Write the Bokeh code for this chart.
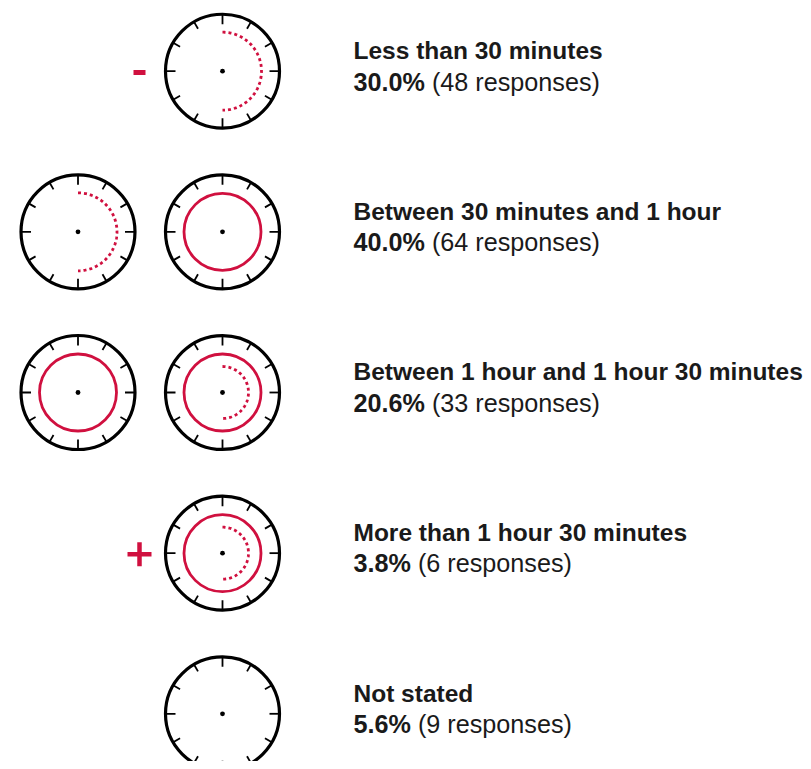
import numpy as np
from bokeh.plotting import figure
from bokeh.models import Range1d, ColumnDataSource
from bokeh.core.properties import value
from bokeh.embed import file_html
from bokeh.resources import INLINE

# ---------------- data ----------------
labels = [
    "Less than 30 minutes",
    "Between 30 minutes and 1 hour",
    "Between 1 hour and 1 hour 30 minutes",
    "More than 1 hour 30 minutes",
    "Not stated",
]
percents = [30.0, 40.0, 20.6, 3.8, 5.6]
responses = [48, 64, 33, 6, 9]
# minutes shown on each clock icon of a row (0 = empty clock)
clock_minutes = [[30], [30, 60], [60, 90], [90], [0]]
# sign drawn before the clocks
signs = ["-", "", "", "+", ""]

# ---------------- style / layout ----------------
RED = "#d0103f"
INK = "#1a1a1a"
FONT = "Liberation Sans"
FS = 24.5
FS2 = 25.2
W, H = 803, 761
ROW0, ROW_STEP = 70.7, 160.65
CLOCK_X, CLOCK_STEP = 222.0, 144.5
R_OUT, R_HOUR, R_HALF_OUTER, R_HALF_INNER = 57.0, 38.5, 39.0, 26.0
TEXT_X = 353.0

p = figure(width=W, height=H, output_backend="svg", toolbar_location=None,
           x_range=Range1d(0, W), y_range=Range1d(H, 0),
           x_axis_type=None, y_axis_type=None, min_border=0)
p.grid.visible = False
p.outline_line_color = None
p.background_fill_color = "white"
p.border_fill_color = "white"

rim_x, rim_y = [], []
tick_x0, tick_y0, tick_x1, tick_y1 = [], [], [], []
dot_x, dot_y = [], []
full_x, full_y = [], []
arc_xs, arc_ys = [], []
minus_x, minus_y, plus_x, plus_y = [], [], [], []

theta = np.linspace(0, np.pi, 120)
for i, mins in enumerate(clock_minutes):
    cy = ROW0 + i * ROW_STEP
    n = len(mins)
    for j, m in enumerate(mins):
        cx = CLOCK_X - (n - 1 - j) * CLOCK_STEP
        rim_x.append(cx); rim_y.append(cy)
        dot_x.append(cx); dot_y.append(cy)
        for k in range(12):
            a = k * np.pi / 6
            r_in = R_OUT - (10 if k % 3 == 0 else 8)
            tick_x0.append(cx + R_OUT * np.sin(a)); tick_y0.append(cy - R_OUT * np.cos(a))
            tick_x1.append(cx + r_in * np.sin(a)); tick_y1.append(cy - r_in * np.cos(a))
        hours, rest = divmod(m, 60)
        if hours >= 1:
            full_x.append(cx); full_y.append(cy)
        if rest == 30:
            r = R_HALF_INNER if hours >= 1 else R_HALF_OUTER
            arc_xs.append(list(cx + r * np.sin(theta)))
            arc_ys.append(list(cy - r * np.cos(theta)))
    first_cx = CLOCK_X - (n - 1) * CLOCK_STEP
    if signs[i] == "-":
        minus_x.append(first_cx - 83); minus_y.append(cy + 1.2)
    elif signs[i] == "+":
        plus_x.append(first_cx - 83); plus_y.append(cy + 1.2)

# clock rims
p.circle(x=rim_x, y=rim_y, radius=R_OUT, fill_color=None, line_color="black", line_width=3.2)
p.segment(x0=tick_x0, y0=tick_y0, x1=tick_x1, y1=tick_y1, line_color="black", line_width=1.8)
p.circle(x=dot_x, y=dot_y, radius=2.4, fill_color="black", line_color=None)
# full hour rings
p.circle(x=full_x, y=full_y, radius=R_HOUR, fill_color=None, line_color=RED, line_width=2.8)
# half-hour dotted arcs
p.multi_line(xs=arc_xs, ys=arc_ys, line_color=RED, line_width=2.8, line_dash="3 3")
# minus / plus signs
p.rect(x=minus_x, y=minus_y, width=12, height=5, fill_color=RED, line_color=None)
p.rect(x=plus_x * 2, y=plus_y * 2, width=[24] * len(plus_x) + [4.5] * len(plus_x),
       height=[4.5] * len(plus_x) + [24] * len(plus_x), fill_color=RED, line_color=None)

# ---------------- texts ----------------
BOLD_W = {c: 556 for c in "0123456789"}
BOLD_W.update({".": 278, "%": 889})
SPACE_W = 278

row_y = [ROW0 + i * ROW_STEP for i in range(len(labels))]
pct_txt = [f"{v:.1f}%" for v in percents]
resp_txt = [f"({n} responses)" for n in responses]
resp_x = [TEXT_X + (sum(BOLD_W[c] for c in t) + SPACE_W) * FS2 / 1000 for t in pct_txt]

src_title = ColumnDataSource(dict(x=[TEXT_X] * len(labels), y=[y - 20.7 for y in row_y], t=labels))
src_pct = ColumnDataSource(dict(x=[TEXT_X] * len(labels), y=[y + 10.3 for y in row_y], t=pct_txt))
src_resp = ColumnDataSource(dict(x=resp_x, y=[y + 10.3 for y in row_y], t=resp_txt))

p.text(x="x", y="y", text="t", source=src_title, text_font=value(FONT), text_font_style="bold",
       text_font_size=f"{FS}px", text_color=INK, text_baseline="alphabetic", text_align="left")
p.text(x="x", y="y", text="t", source=src_pct, text_font=value(FONT), text_font_style="bold",
       text_font_size=f"{FS2}px", text_color=INK, text_baseline="alphabetic", text_align="left")
p.text(x="x", y="y", text="t", source=src_resp, text_font=value(FONT), text_font_style="normal",
       text_font_size=f"{FS2}px", text_color=INK, text_baseline="alphabetic", text_align="left")

open("out.html", "w").write(file_html(p, INLINE))
